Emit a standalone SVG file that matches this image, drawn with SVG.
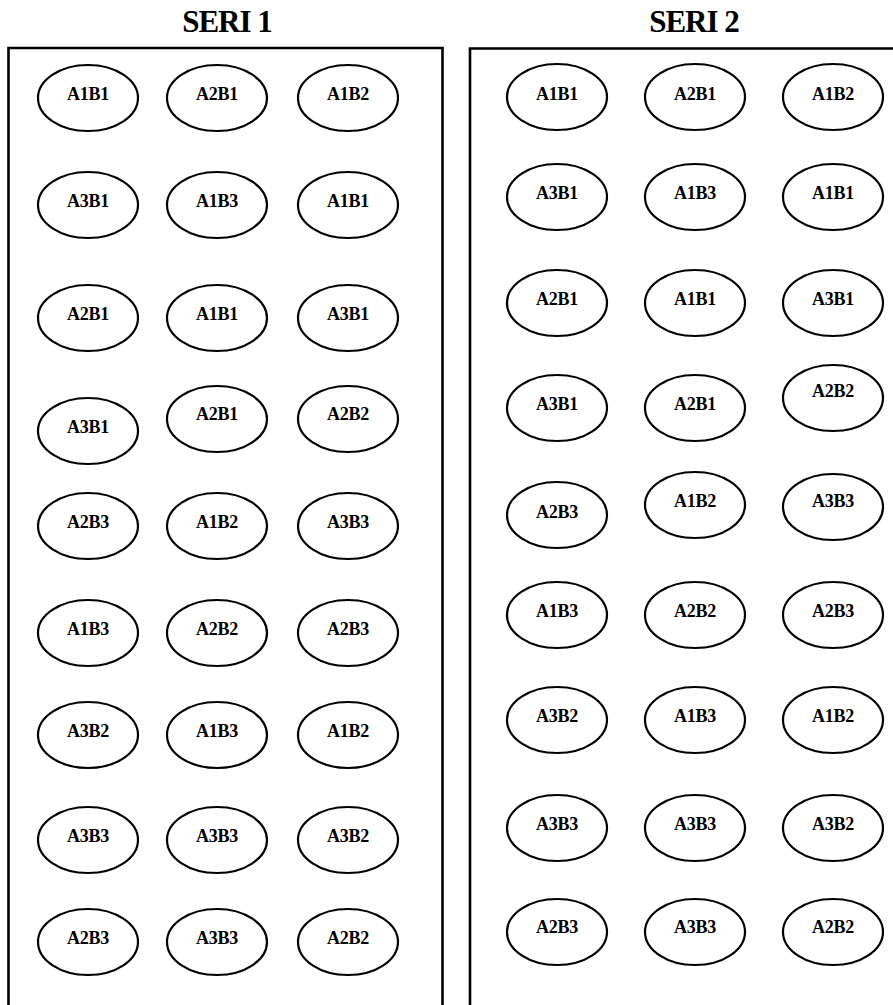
<svg xmlns="http://www.w3.org/2000/svg" width="893" height="1005" viewBox="0 0 893 1005">
<style>
.frame{fill:none;stroke:#000;stroke-width:2.6}
.node ellipse{fill:#fff;stroke:#000;stroke-width:2.2}
.node text{font-family:"Liberation Serif","Times New Roman",serif;font-weight:bold;font-size:18px;text-anchor:middle;fill:#000;letter-spacing:-0.3px}
.title{font-family:"Liberation Serif","Times New Roman",serif;font-weight:bold;font-size:31px;text-anchor:middle;fill:#000;letter-spacing:-1px}
</style>
<rect width="893" height="1005" fill="#fff"/>
<g id="seri1">
<text class="title" x="227" y="32">SERI 1</text>
<path class="frame" d="M8.5 1010 V48 H442.5 V1010"/>
</g>
<g id="seri2">
<text class="title" x="694" y="32">SERI 2</text>
<path class="frame" d="M470 1010 V48.5 H900"/>
</g>
<g id="connectors"></g>
<g id="s1nodes">
<g id="s1r1c1" class="node"><ellipse cx="88" cy="98" rx="50" ry="33"/><text x="88" y="100">A1B1</text></g>
<g id="s1r1c2" class="node"><ellipse cx="217" cy="98" rx="50" ry="33"/><text x="217" y="100">A2B1</text></g>
<g id="s1r1c3" class="node"><ellipse cx="348" cy="98" rx="50" ry="33"/><text x="348" y="100">A1B2</text></g>
<g id="s1r2c1" class="node"><ellipse cx="88" cy="205" rx="50" ry="33"/><text x="88" y="207">A3B1</text></g>
<g id="s1r2c2" class="node"><ellipse cx="217" cy="205" rx="50" ry="33"/><text x="217" y="207">A1B3</text></g>
<g id="s1r2c3" class="node"><ellipse cx="348" cy="205" rx="50" ry="33"/><text x="348" y="207">A1B1</text></g>
<g id="s1r3c1" class="node"><ellipse cx="88" cy="318" rx="50" ry="33"/><text x="88" y="320">A2B1</text></g>
<g id="s1r3c2" class="node"><ellipse cx="217" cy="318" rx="50" ry="33"/><text x="217" y="320">A1B1</text></g>
<g id="s1r3c3" class="node"><ellipse cx="348" cy="318" rx="50" ry="33"/><text x="348" y="320">A3B1</text></g>
<g id="s1r4c1" class="node"><ellipse cx="88" cy="431" rx="50" ry="33"/><text x="88" y="433">A3B1</text></g>
<g id="s1r4c2" class="node"><ellipse cx="217" cy="419" rx="50" ry="33"/><text x="217" y="420">A2B1</text></g>
<g id="s1r4c3" class="node"><ellipse cx="348" cy="419" rx="50" ry="33"/><text x="348" y="420">A2B2</text></g>
<g id="s1r5c1" class="node"><ellipse cx="88" cy="526" rx="50" ry="33"/><text x="88" y="528">A2B3</text></g>
<g id="s1r5c2" class="node"><ellipse cx="217" cy="526" rx="50" ry="33"/><text x="217" y="528">A1B2</text></g>
<g id="s1r5c3" class="node"><ellipse cx="348" cy="526" rx="50" ry="33"/><text x="348" y="528">A3B3</text></g>
<g id="s1r6c1" class="node"><ellipse cx="88" cy="633" rx="50" ry="33"/><text x="88" y="635">A1B3</text></g>
<g id="s1r6c2" class="node"><ellipse cx="217" cy="633" rx="50" ry="33"/><text x="217" y="635">A2B2</text></g>
<g id="s1r6c3" class="node"><ellipse cx="348" cy="633" rx="50" ry="33"/><text x="348" y="635">A2B3</text></g>
<g id="s1r7c1" class="node"><ellipse cx="88" cy="735" rx="50" ry="33"/><text x="88" y="737">A3B2</text></g>
<g id="s1r7c2" class="node"><ellipse cx="217" cy="735" rx="50" ry="33"/><text x="217" y="737">A1B3</text></g>
<g id="s1r7c3" class="node"><ellipse cx="348" cy="735" rx="50" ry="33"/><text x="348" y="737">A1B2</text></g>
<g id="s1r8c1" class="node"><ellipse cx="88" cy="840" rx="50" ry="33"/><text x="88" y="842">A3B3</text></g>
<g id="s1r8c2" class="node"><ellipse cx="217" cy="840" rx="50" ry="33"/><text x="217" y="842">A3B3</text></g>
<g id="s1r8c3" class="node"><ellipse cx="348" cy="840" rx="50" ry="33"/><text x="348" y="842">A3B2</text></g>
<g id="s1r9c1" class="node"><ellipse cx="88" cy="942" rx="50" ry="33"/><text x="88" y="944">A2B3</text></g>
<g id="s1r9c2" class="node"><ellipse cx="217" cy="942" rx="50" ry="33"/><text x="217" y="944">A3B3</text></g>
<g id="s1r9c3" class="node"><ellipse cx="348" cy="942" rx="50" ry="33"/><text x="348" y="944">A2B2</text></g>
</g>
<g id="s2nodes">
<g id="s2r1c1" class="node"><ellipse cx="557" cy="97" rx="50" ry="33"/><text x="557" y="100">A1B1</text></g>
<g id="s2r1c2" class="node"><ellipse cx="695" cy="97" rx="50" ry="33"/><text x="695" y="100">A2B1</text></g>
<g id="s2r1c3" class="node"><ellipse cx="833" cy="97" rx="50" ry="33"/><text x="833" y="100">A1B2</text></g>
<g id="s2r2c1" class="node"><ellipse cx="557" cy="197" rx="50" ry="33"/><text x="557" y="199">A3B1</text></g>
<g id="s2r2c2" class="node"><ellipse cx="695" cy="197" rx="50" ry="33"/><text x="695" y="199">A1B3</text></g>
<g id="s2r2c3" class="node"><ellipse cx="833" cy="197" rx="50" ry="33"/><text x="833" y="199">A1B1</text></g>
<g id="s2r3c1" class="node"><ellipse cx="557" cy="303" rx="50" ry="33"/><text x="557" y="305">A2B1</text></g>
<g id="s2r3c2" class="node"><ellipse cx="695" cy="303" rx="50" ry="33"/><text x="695" y="305">A1B1</text></g>
<g id="s2r3c3" class="node"><ellipse cx="833" cy="303" rx="50" ry="33"/><text x="833" y="305">A3B1</text></g>
<g id="s2r4c1" class="node"><ellipse cx="557" cy="408" rx="50" ry="33"/><text x="557" y="410">A3B1</text></g>
<g id="s2r4c2" class="node"><ellipse cx="695" cy="408" rx="50" ry="33"/><text x="695" y="410">A2B1</text></g>
<g id="s2r4c3" class="node"><ellipse cx="833" cy="398" rx="50" ry="33"/><text x="833" y="397">A2B2</text></g>
<g id="s2r5c1" class="node"><ellipse cx="557" cy="515" rx="50" ry="33"/><text x="557" y="518">A2B3</text></g>
<g id="s2r5c2" class="node"><ellipse cx="695" cy="505" rx="50" ry="33"/><text x="695" y="507">A1B2</text></g>
<g id="s2r5c3" class="node"><ellipse cx="833" cy="507" rx="50" ry="33"/><text x="833" y="507">A3B3</text></g>
<g id="s2r6c1" class="node"><ellipse cx="557" cy="615" rx="50" ry="33"/><text x="557" y="617">A1B3</text></g>
<g id="s2r6c2" class="node"><ellipse cx="695" cy="615" rx="50" ry="33"/><text x="695" y="617">A2B2</text></g>
<g id="s2r6c3" class="node"><ellipse cx="833" cy="615" rx="50" ry="33"/><text x="833" y="617">A2B3</text></g>
<g id="s2r7c1" class="node"><ellipse cx="557" cy="720" rx="50" ry="33"/><text x="557" y="722">A3B2</text></g>
<g id="s2r7c2" class="node"><ellipse cx="695" cy="720" rx="50" ry="33"/><text x="695" y="722">A1B3</text></g>
<g id="s2r7c3" class="node"><ellipse cx="833" cy="720" rx="50" ry="33"/><text x="833" y="722">A1B2</text></g>
<g id="s2r8c1" class="node"><ellipse cx="557" cy="828" rx="50" ry="33"/><text x="557" y="830">A3B3</text></g>
<g id="s2r8c2" class="node"><ellipse cx="695" cy="828" rx="50" ry="33"/><text x="695" y="830">A3B3</text></g>
<g id="s2r8c3" class="node"><ellipse cx="833" cy="828" rx="50" ry="33"/><text x="833" y="830">A3B2</text></g>
<g id="s2r9c1" class="node"><ellipse cx="557" cy="932" rx="50" ry="33"/><text x="557" y="933">A2B3</text></g>
<g id="s2r9c2" class="node"><ellipse cx="695" cy="932" rx="50" ry="33"/><text x="695" y="933">A3B3</text></g>
<g id="s2r9c3" class="node"><ellipse cx="833" cy="932" rx="50" ry="33"/><text x="833" y="933">A2B2</text></g>
</g>
</svg>
